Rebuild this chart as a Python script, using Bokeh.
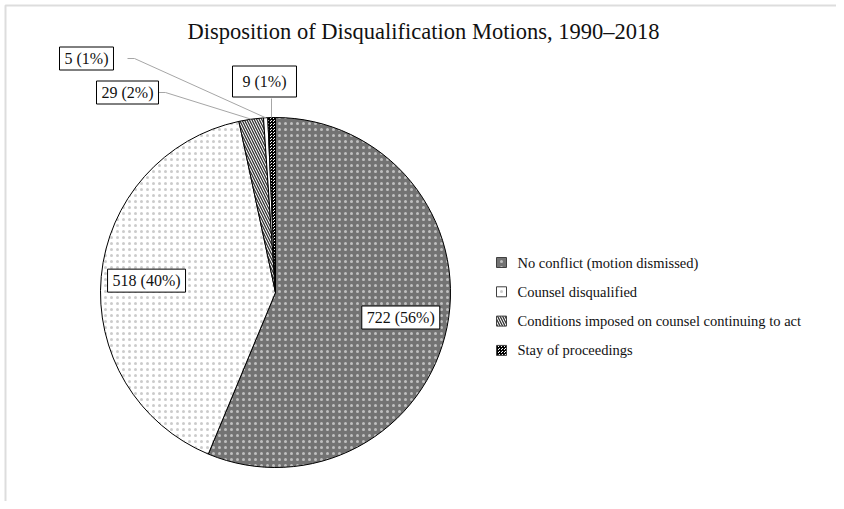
import math
from bokeh.plotting import figure
from bokeh.models import Range1d, Label
from bokeh.embed import file_html
from bokeh.resources import INLINE

# ---------------- data ----------------
title_text = "Disposition of Disqualification Motions, 1990\u20132018"
categories = ["No conflict (motion dismissed)",
              "Counsel disqualified",
              "Conditions imposed on counsel continuing to act",
              "",
              "Stay of proceedings"]
counts = [722, 518, 29, 5, 9]
pct_labels = ["56%", "40%", "2%", "1%", "1%"]

# ---------------- styles / layout ----------------
fills = ["#737373", "#ffffff", "#ffffff", "#ffffff", "#ffffff"]
hatches = ["dot", "dot", "left_diagonal_line", "blank", "criss_cross"]
hatch_colors = ["#ffffff", "#8c8c8c", "#333333", "#000000", "#000000"]
hatch_alphas = [0.55, 0.45, 1.0, 1.0, 1.0]
hatch_scales = [6, 6, 5, 4, 3]
hatch_weights = [1, 1, 1.3, 1, 1]

FONT = "Liberation Serif"
W, H = 836, 501
CX, CY, R = 275, 292, 175          # pie centre / radius (page pixels)

def Y(py):
    return -py

p = figure(width=W, height=H, x_range=Range1d(0, W), y_range=Range1d(-H, 0),
           output_backend="svg", toolbar_location=None, min_border=0,
           x_axis_type=None, y_axis_type=None)
p.grid.visible = False
p.outline_line_color = None
p.background_fill_color = "white"
p.border_fill_color = "white"

# light frame (left/top)
p.line([5, 5, W], [-H, Y(5), Y(5)], line_color="#dddddd", line_width=2)

total = sum(counts)
angles = []
cum = 0
for i, c in enumerate(counts):
    a0 = math.pi / 2 - 2 * math.pi * cum / total
    cum += c
    a1 = math.pi / 2 - 2 * math.pi * cum / total
    angles.append((a0, a1))
    p.wedge(x=[CX], y=[Y(CY)], radius=[R], start_angle=[a0], end_angle=[a1], direction="clock",
            fill_color=fills[i], line_color="black", line_width=1,
            hatch_pattern=hatches[i], hatch_color=hatch_colors[i], hatch_alpha=hatch_alphas[i],
            hatch_scale=hatch_scales[i], hatch_weight=hatch_weights[i])

# data labels
inside = {0: 0.73, 1: 0.74}
outside = {2: ((127, 92), (157, 92), (165, 92)),
           3: ((86, 58), (127, 58), (134, 58)),
           4: ((264, 81), (271, 98), None)}
for i, c in enumerate(counts):
    txt = f"{c} ({pct_labels[i]})"
    a0, a1 = angles[i]
    am = (a0 + a1) / 2
    if i in inside:
        lx = CX + inside[i] * R * math.cos(am)
        ly = CY - inside[i] * R * math.sin(am)
        pad = (5, 3)
    else:
        (lx, ly), s0, s1 = outside[i]
        ex = CX + R * math.cos(am)
        ey = CY - R * math.sin(am)
        pts = [s0] + ([s1] if s1 else []) + [(ex, ey)]
        if i == 4:
            pts = [s0, (s0[0], ey)]
        p.line([q[0] for q in pts], [Y(q[1]) for q in pts], line_color="#a6a6a6", line_width=1)
        pad = (10, 7) if i == 4 else (5, 3)
    p.add_layout(Label(x=lx, y=Y(ly), text=txt, text_align="center", text_baseline="middle",
                       text_font=FONT, text_font_size="16px", text_color="#111111",
                       background_fill_color="white", border_line_color="black",
                       border_line_width=1, padding=pad))

# legend
LX, LY0, LDY = 501, 262, 29.3
k = 0
for i, name in enumerate(categories):
    if not name:
        continue
    yy = LY0 + k * LDY
    p.rect(x=[LX], y=[Y(yy)], width=[10], height=[10], fill_color=fills[i], line_color="#404040",
           line_width=1, hatch_pattern=hatches[i], hatch_color=hatch_colors[i],
           hatch_alpha=hatch_alphas[i], hatch_scale=hatch_scales[i], hatch_weight=hatch_weights[i])
    p.add_layout(Label(x=517, y=Y(yy), text=name, text_align="left", text_baseline="middle",
                       text_font=FONT, text_font_size="14.5px", text_color="#111111"))
    k += 1

# title
p.add_layout(Label(x=423, y=Y(31), text=title_text, text_align="center", text_baseline="middle",
                   text_font=FONT, text_font_size="22.5px", text_color="#111111"))

open("out.html", "w").write(file_html(p, INLINE))
